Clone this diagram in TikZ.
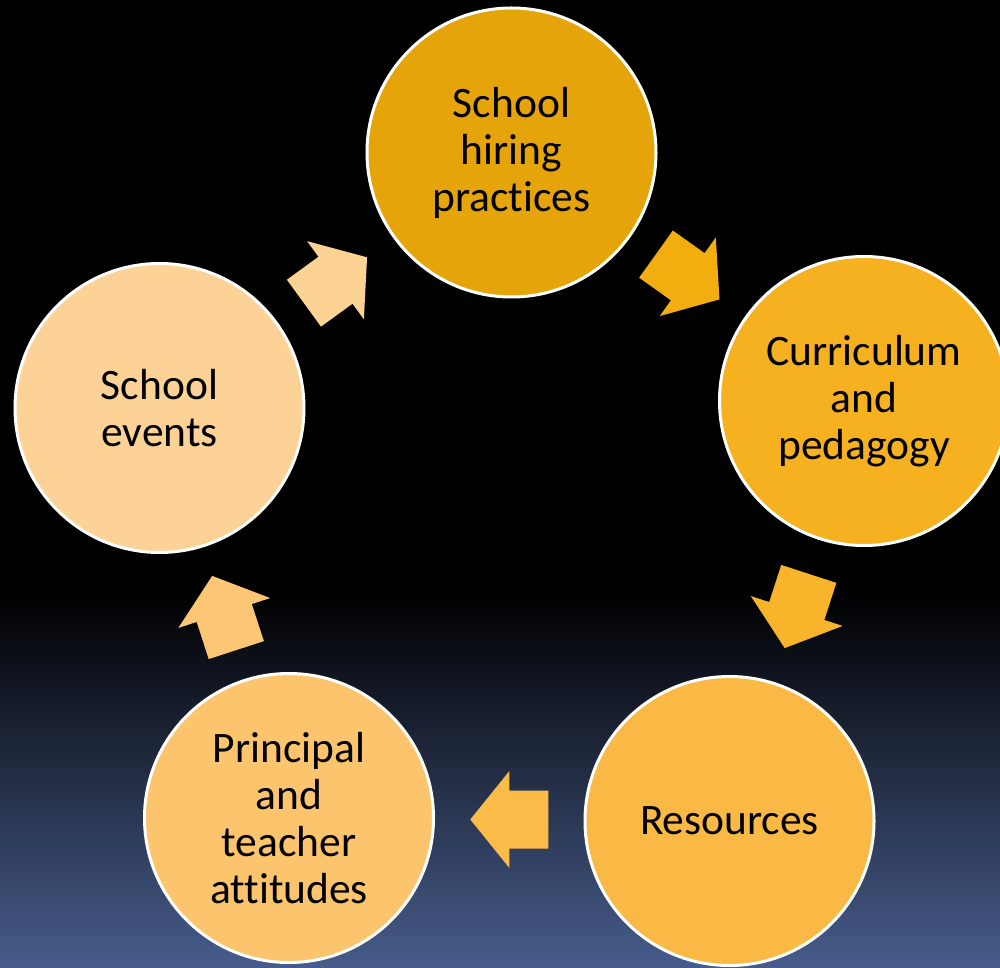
\documentclass[tikz,border=0pt]{standalone}
\usepackage{fontspec}
\setmainfont{Carlito}[Ligatures=NoCommon]
\usetikzlibrary{calc}
\definecolor{bgblue}{HTML}{475C8B}
\definecolor{cA}{HTML}{E5A50A}
\definecolor{cB}{HTML}{F6B120}
\definecolor{cC}{HTML}{F9B944}
\definecolor{cD}{HTML}{FCC46D}
\definecolor{cE}{HTML}{FDD296}
\definecolor{aAB}{HTML}{F1AE0E}
\definecolor{aBC}{HTML}{F8B52C}
\definecolor{aCD}{HTML}{FBBB48}
\definecolor{aDE}{HTML}{FCC674}
\definecolor{aEA}{HTML}{FDD395}
\tikzset{
  stage/.style={circle, draw=white, line width=3pt, minimum size=289pt, inner sep=0pt,
    align=center, font=\fontsize{43.5}{47}\selectfont, text=black},
  blockarrow/.pic={\fill (-39,-29) -- (0,-29) -- (0,-48.3) -- (39,0) -- (0,48.3) -- (0,29) -- (-39,29) -- cycle;}
}
\begin{document}
\begin{tikzpicture}[x=1pt,y=1pt]
\useasboundingbox (0,0) rectangle (1000,967);
\clip (0,0) rectangle (1000,967);
\fill[black] (0,0) rectangle (1000,967);
\shade[top color=black, bottom color=bgblue] (0,0) rectangle (1000,374);

\node[stage, fill=cA] (c1) at (511.5,814.5) {School\\hiring\\practices};
\node[stage, fill=cB] (c2) at (864,566) {Curriculum\\and\\pedagogy};
\node[stage, fill=cC] (c3) at (729.5,146) {Resources};
\node[stage, fill=cD] (c4) at (289,149) {Principal\\and\\teacher\\attitudes};
\node[stage, fill=cE] (c5) at (159.5,559) {School\\events};

\pic[fill=aAB, rotate=-35.5] at ($(c1)!0.5!(c2)$) {blockarrow};
\pic[fill=aBC, rotate=-108] at ($(c2)!0.5!(c3)$) {blockarrow};
\pic[fill=aCD, rotate=180] at ($(c3)!0.5!(c4)$) {blockarrow};
\pic[fill=aDE, rotate=108] at ($(c4)!0.5!(c5)$) {blockarrow};
\pic[fill=aEA, rotate=36] at ($(c5)!0.5!(c1)$) {blockarrow};
\end{tikzpicture}
\end{document}
